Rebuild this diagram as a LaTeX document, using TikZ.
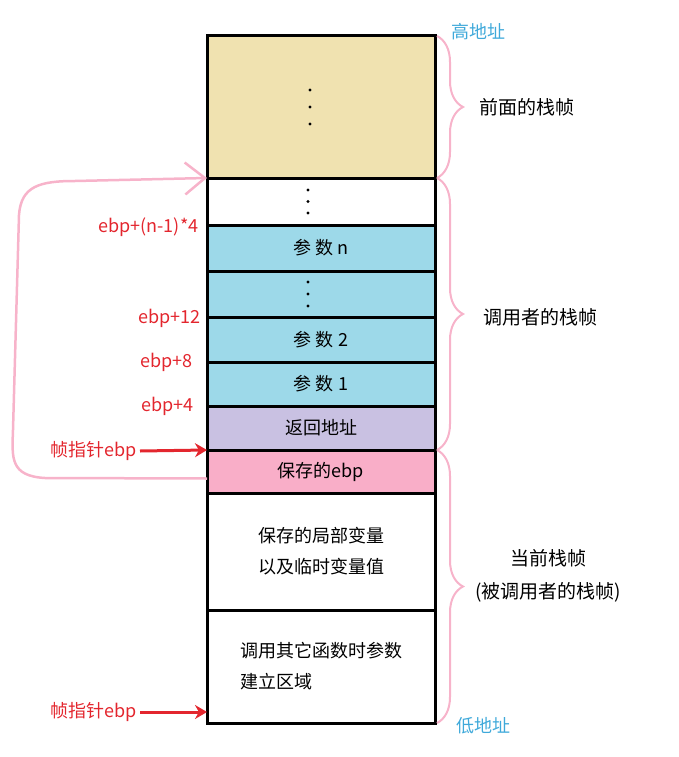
\documentclass[tikz,border=0pt]{standalone}
\usepackage{fontspec}
\setmainfont{Noto Sans CJK SC}
\usetikzlibrary{arrows, arrows.meta, positioning, decorations.pathreplacing}
\definecolor{prevtan}{HTML}{F0E2B0}
\definecolor{argblue}{HTML}{9DD9E9}
\definecolor{retlav}{HTML}{C9C1E2}
\definecolor{ebppink}{HTML}{F9AEC8}
\definecolor{ptrred}{HTML}{E3262E}
\definecolor{addrblue}{HTML}{3FA9DA}
\definecolor{linkpink}{HTML}{F7B3CA}
\tikzstyle{cell} = [rectangle, minimum width=228pt, draw=black, line width=3pt, outer sep=0pt, inner sep=0pt, text centered, font=\fontsize{18}{31}\selectfont]
\tikzstyle{offset} = [text=ptrred, anchor=east, font=\fontsize{18}{20}\selectfont]
\tikzstyle{ptrarrow} = [ptrred, line width=3pt, -{Stealth[length=12pt, width=14pt]}]
\tikzstyle{framebrace} = [draw=linkpink, line width=2pt, decorate, decoration={brace, amplitude=26pt}]
\tikzstyle{framelabel} = [font=\fontsize{19}{33}\selectfont, align=center]
\tikzstyle{addr} = [text=addrblue, font=\fontsize{18}{20}\selectfont]

\begin{document}
\begin{tikzpicture}[x=1pt, y=-1pt]
\useasboundingbox (0,0) rectangle (678,757);

% Stack cells, from high to low address
\node (prevframe) [cell, fill=prevtan, minimum height=142pt] at (321,107) {};
\node (moreargs) [cell, fill=white, minimum height=47pt, below=0pt of prevframe] {};
\node (argn) [cell, fill=argblue, minimum height=46pt, below=0pt of moreargs] {参 数 n};
\node (argdots) [cell, fill=argblue, minimum height=46pt, below=0pt of argn] {};
\node (arg2) [cell, fill=argblue, minimum height=45pt, below=0pt of argdots] {参 数 2};
\node (arg1) [cell, fill=argblue, minimum height=44pt, below=0pt of arg2] {参 数 1};
\node (retaddr) [cell, fill=retlav, minimum height=44pt, below=0pt of arg1] {返回地址};
\node (savedebp) [cell, fill=ebppink, minimum height=43pt, below=0pt of retaddr] {保存的ebp};
\node (locals) [cell, fill=white, minimum height=117pt, below=0pt of savedebp, align=center] {保存的局部变量\\以及临时变量值};
\node (callargs) [cell, fill=white, minimum height=113pt, below=0pt of locals, align=left] {调用其它函数时参数\\建立区域};

% Dots
\foreach \d in {-1,0,1} {
  \fill ([yshift=\d*17pt]prevframe.center) ++(-11,0) circle (1.7pt);
  \fill ([yshift=\d*11.5pt]moreargs.center) ++(-13,0) circle (1.7pt);
  \fill ([yshift=\d*12pt]argdots.center) ++(-13,0) circle (1.7pt);
}

% Offsets from ebp
\node (offn) [offset] at (202,227) {ebp+(n-1)*4};
\node (off12) [offset] at (204,318) {ebp+12};
\node (off8) [offset] at (196,362) {ebp+8};
\node (off4) [offset] at (197,406) {ebp+4};

% Frame pointers
\node (fptop) [offset] at (140,451) {帧指针ebp};
\node (fpbottom) [offset] at (140,712) {帧指针ebp};
\draw [ptrarrow] (fptop.east) -- (savedebp.north west);
\draw [ptrarrow] (fpbottom.east) -- ([yshift=11pt]callargs.south west);

% Saved ebp points back to the caller's frame
\coordinate (linkstart) at ([yshift=-7pt]savedebp.west);
\draw [linkpink, line width=2.5pt, -{Straight Barb[length=20pt, width=32pt, line width=2.5pt]}]
  (linkstart) -- (45,478) .. controls (10,476) and (12,458) .. (13,430)
  -- (19,215) .. controls (21,186) and (40,181) .. (75,181) -- (moreargs.north west);

% Frames
\draw [framebrace] ([xshift=2pt]prevframe.north east) -- ([xshift=2pt]prevframe.south east);
\draw [framebrace] ([xshift=2pt]moreargs.north east) -- ([xshift=2pt]retaddr.south east);
\draw [framebrace] ([xshift=2pt]savedebp.north east) -- ([xshift=2pt]callargs.south east);
\node (prevlabel) [framelabel] at (527,107) {前面的栈帧};
\node (callerlabel) [framelabel] at (540,317) {调用者的栈帧};
\node (calleelabel) [framelabel] at (548,576) {当前栈帧\\(被调用者的栈帧)};

% Address direction
\node (high) [addr] at (478,32) {高地址};
\node (low) [addr] at (483,726) {低地址};

\end{tikzpicture}
\end{document}
